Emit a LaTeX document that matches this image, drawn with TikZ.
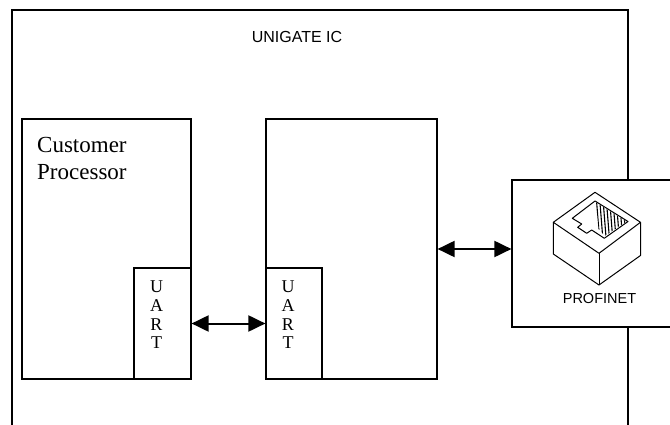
\documentclass[tikz,border=0pt]{standalone}
\usepackage{fontspec}
\setmainfont{Liberation Serif}
\newfontfamily\arialfont{Liberation Sans}
\usetikzlibrary{arrows.meta}
\tikzset{
  box/.style={draw=black, line width=1.3pt, fill=white, rectangle, inner sep=0pt, outer sep=0pt},
  outerbox/.style={draw=black, line width=2pt, rectangle, inner sep=0pt},
  arr/.style={line width=2pt, {Triangle[length=17pt,width=16pt]}-{Triangle[length=17pt,width=16pt]}, shorten <=0.6pt, shorten >=0.6pt},
  uartlbl/.style={font=\fontsize{18}{18.7}\selectfont, align=center, inner sep=0pt, anchor=north},
  icon/.style={line width=1pt, line join=round},
}
\begin{document}
\begin{tikzpicture}[x=1pt,y=-1pt]
\useasboundingbox (0,0) rectangle (670,425);
% outer UNIGATE IC frame (open at the bottom)
\node[outerbox, minimum width=616pt, minimum height=450pt, anchor=north west] (ic) at (11,9) {};
\node[font=\arialfont\fontsize{16}{16}\selectfont, anchor=base] (ictitle) at (297,42.7) {UNIGATE IC};
% customer processor
\node[box, minimum width=169pt, minimum height=260pt] (cp) at (106.5,249) {};
\node[anchor=north west, inner sep=0pt, align=left, font=\fontsize{23}{27}\selectfont] (cptext) at (37,137) {Customer\\Processor};
\node[box, minimum width=57pt, minimum height=111pt] (uart1) at (162.5,323.5) {};
\node[uartlbl] (u1txt) at (156.5,280.7) {U\\A\\R\\T};
% middle (UNIGATE) block
\node[box, minimum width=171pt, minimum height=260pt] (mid) at (351.5,249) {};
\node[box, minimum width=56pt, minimum height=111pt] (uart2) at (294,323.5) {};
\node[uartlbl] (u2txt) at (288,280.7) {U\\A\\R\\T};
% profinet box
\node[box, minimum width=180pt, minimum height=147pt, anchor=north west] (pn) at (512,180) {};
\node[font=\arialfont\fontsize{14.5}{14.5}\selectfont, anchor=base] (pntxt) at (599.5,303) {PROFINET};
% RJ45 jack icon
\coordinate (jt) at (595,192.3);
\coordinate (jl) at (553.3,222.3);
\coordinate (jf) at (599,253.3);
\coordinate (jr) at (640.5,222.3);
\coordinate (jlb) at (553.3,254);
\coordinate (jfb) at (599,285);
\coordinate (jrb) at (640.5,255.5);
\draw[icon] (jt) -- (jr) -- (jf) -- (jl) -- cycle;
\draw[icon] (jl) -- (jlb) -- (jfb) -- (jrb) -- (jr);
\draw[icon] (jf) -- (jfb);
\draw[icon] (595,201) -- (628,221.5) -- (604.3,238.3) -- (591.7,230) -- (586.7,233.3) -- (577.7,227.3) -- (581.7,224) -- (572.3,218.3) -- cycle;
\begin{scope}
\clip (596,202.5) -- (626.5,221.5) -- (605,236) -- (598.5,229) -- cycle;
\foreach \k in {0,...,10} {
  \draw[line width=1.1pt] (593+3.3*\k,198) -- (596.5+3.3*\k,242);
}
\end{scope}
% connectors
\draw[arr] (uart1) -- (uart2);
\draw[arr] (mid.east) -- (mid.east -| pn.west);
\end{tikzpicture}
\end{document}
